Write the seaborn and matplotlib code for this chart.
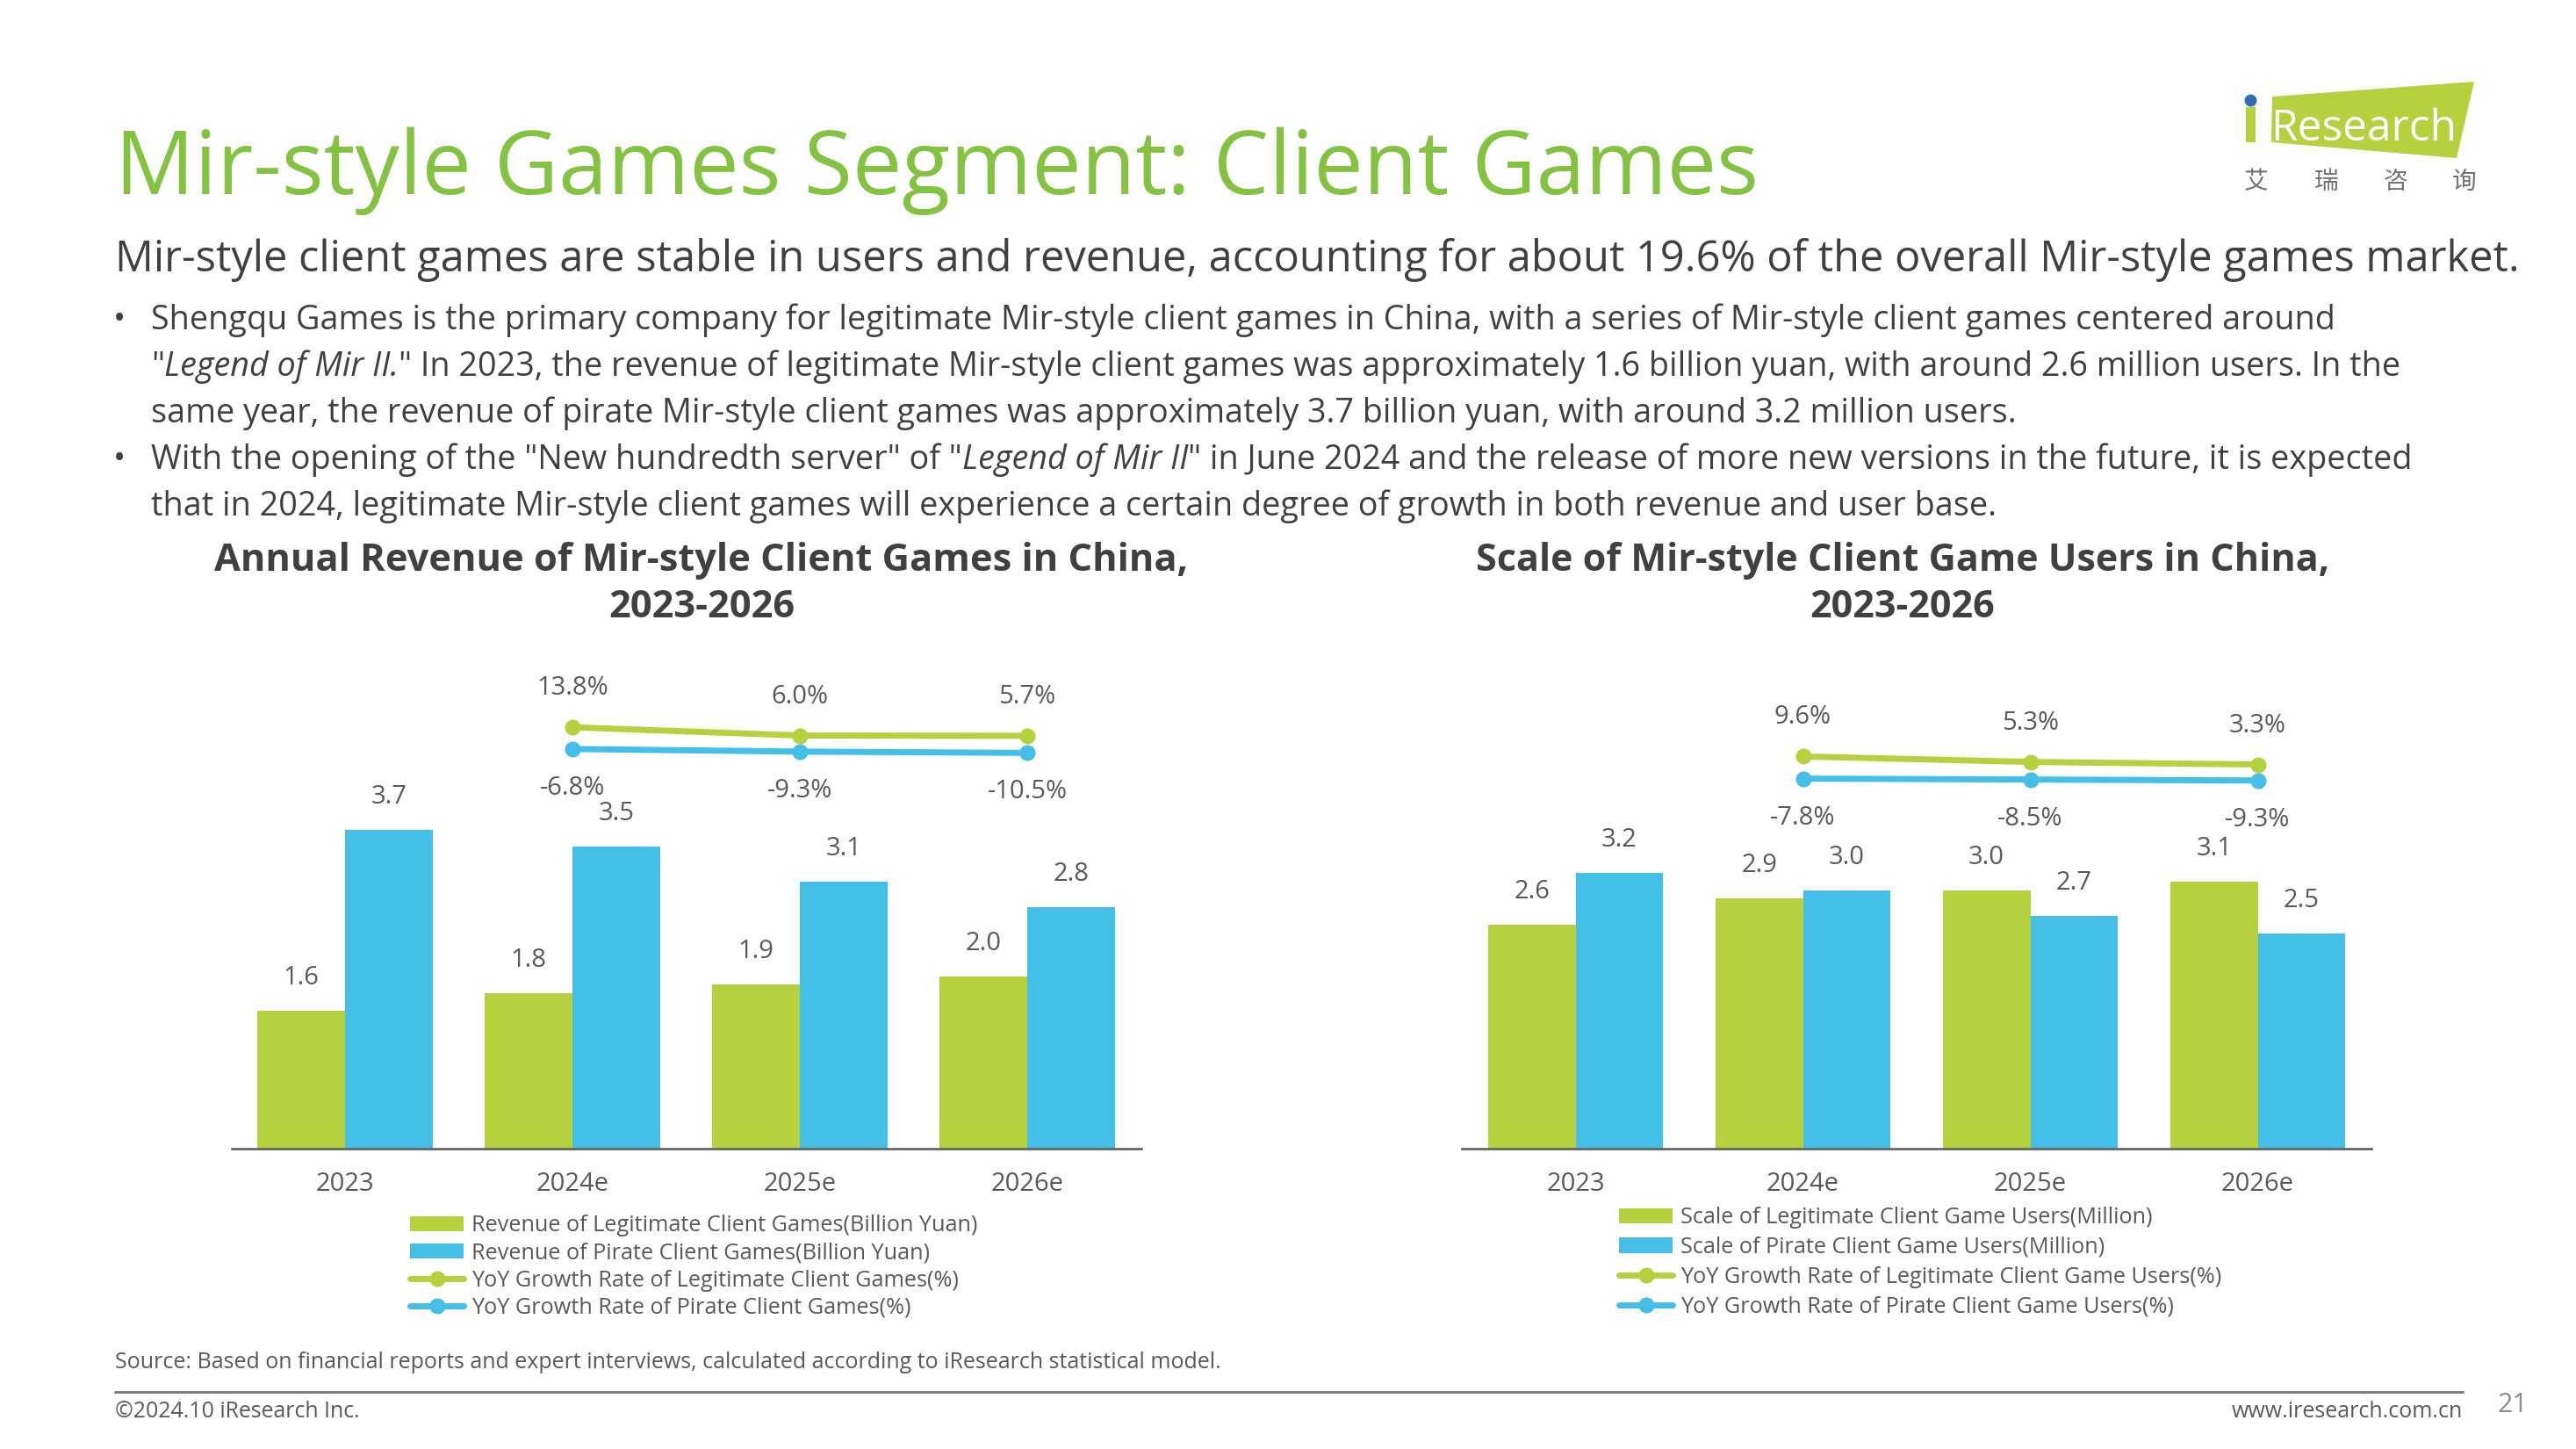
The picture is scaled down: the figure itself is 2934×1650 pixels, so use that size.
import matplotlib
matplotlib.use('Agg')
import matplotlib.pyplot as plt
import seaborn as sns
import pandas as pd
from matplotlib.patches import Patch, Polygon, Rectangle
from matplotlib.lines import Line2D

# data
years = ['2023', '2024e', '2025e', '2026e']
yoy_years = ['2024e', '2025e', '2026e']

legit_revenue = [1.6, 1.8, 1.9, 2.0]
pirate_revenue = [3.7, 3.5, 3.1, 2.8]
legit_revenue_yoy = [13.8, 6.0, 5.7]
pirate_revenue_yoy = [-6.8, -9.3, -10.5]

legit_users = [2.6, 2.9, 3.0, 3.1]
pirate_users = [3.2, 3.0, 2.7, 2.5]
legit_users_yoy = [9.6, 5.3, 3.3]
pirate_users_yoy = [-7.8, -8.5, -9.3]

revenue_names = ['Revenue of Legitimate Client Games(Billion Yuan)',
                 'Revenue of Pirate Client Games(Billion Yuan)',
                 'YoY Growth Rate of Legitimate Client Games(%)',
                 'YoY Growth Rate of Pirate Client Games(%)']
user_names = ['Scale of Legitimate Client Game Users(Million)',
              'Scale of Pirate Client Game Users(Million)',
              'YoY Growth Rate of Legitimate Client Game Users(%)',
              'YoY Growth Rate of Pirate Client Game Users(%)']

GREEN = '#B5D13E'
BLUE = '#44BFE7'
TITLE_GREEN = '#84C241'
DARK = '#404040'
GREY = '#595959'

sns.set_theme(style='white')
plt.rcParams['font.family'] = ['Open Sans', 'DejaVu Sans']

W, H = 2934, 1650
fig = plt.figure(figsize=(W / 100, H / 100), dpi=100)
renderer = fig.canvas.get_renderer()


def fx(x):
    return x / W


def fy(y):
    return 1 - y / H


def put(x, y, s, size, width=None, **kw):
    # place text in pixel coords, optionally scale font so it spans `width` px
    t = fig.text(fx(x), fy(y), s, fontsize=size, **kw)
    if width:
        w = t.get_window_extent(renderer).width
        t.set_fontsize(size * width / w)
    return t


def fit_size(s, size, width, **kw):
    t = fig.text(0, 0, s, fontsize=size, **kw)
    w = t.get_window_extent(renderer).width
    t.remove()
    return size * width / w


# header
put(131, 221, 'Mir-style Games Segment: Client Games', 60, width=1871,
    color=TITLE_GREEN, va='baseline')
put(131, 309, 'Mir-style client games are stable in users and revenue, accounting for about '
    '19.6% of the overall Mir-style games market.', 30, width=2737, color=DARK, va='baseline')

bullet_lines = [
    [('Shengqu Games is the primary company for legitimate Mir-style client games in China, '
      'with a series of Mir-style client games centered around', 'normal')],
    [('"', 'normal'), ('Legend of Mir II.', 'italic'),
     ('" In 2023, the revenue of legitimate Mir-style client games was approximately 1.6 billion '
      'yuan, with around 2.6 million users. In the', 'normal')],
    [('same year, the revenue of pirate Mir-style client games was approximately 3.7 billion yuan, '
      'with around 3.2 million users.', 'normal')],
    [('With the opening of the "New hundredth server" of "', 'normal'), ('Legend of Mir II', 'italic'),
     ('" in June 2024 and the release of more new versions in the future, it is expected', 'normal')],
    [('that in 2024, legitimate Mir-style client games will experience a certain degree of growth '
      'in both revenue and user base.', 'normal')],
]
bullet_fs = fit_size(bullet_lines[0][0][0], 24, 2491)
for i, runs in enumerate(bullet_lines):
    y = 375 + 53 * i
    if i in (0, 3):
        put(136, y, '•', bullet_fs, color=DARK, va='baseline', ha='center')
    x = 172
    for s, style in runs:
        t = put(x, y, s, bullet_fs, color=DARK, va='baseline', style=style)
        x += t.get_window_extent(renderer).width

# logo
fig.add_artist(Polygon([(fx(2588), fy(110)), (fx(2818), fy(93)), (fx(2798), fy(180)),
                        (fx(2587), fy(162))], closed=True, facecolor=GREEN, edgecolor='none',
                       transform=fig.transFigure))
fig.add_artist(Rectangle((fx(2558), fy(162)), 11 / W, 40 / H, facecolor=GREEN,
                         edgecolor='none', transform=fig.transFigure))
fig.add_artist(Line2D([fx(2563)], [fy(114)], marker='o', markersize=10, color='#2E6DB4',
                      markeredgewidth=0, transform=fig.transFigure))
put(2586, 160, 'Research', 34, width=212, color='white', va='baseline')
for cx, ch in zip([2570, 2650, 2728, 2807], '艾瑞咨询'):
    put(cx, 207, ch, 20, color='#707070', ha='center', va='center',
        family=['Noto Sans CJK SC', 'DejaVu Sans'])

# chart titles
for cx, lines in [(799, ['Annual Revenue of Mir-style Client Games in China,', '2023-2026']),
                  (2167, ['Scale of Mir-style Client Game Users in China,', '2023-2026'])]:
    t = put(cx, 650, lines[0], 27, width=1107 if cx < 1000 else 972, color=DARK,
            weight='bold', ha='center', va='baseline')
    put(cx, 703, lines[1], t.get_fontsize(), color=DARK, weight='bold', ha='center', va='baseline')

BASE = 1308
AX_H = 589
LABEL_FS = 21


def draw_panel(left, right, legit, pirate, legit_yoy, pirate_yoy, yoy_lim, names,
               leg_x, leg_top, leg_pitch, leg_width):
    ax = fig.add_axes([fx(left), fy(BASE), (right - left) / W, AX_H / H])
    df = pd.DataFrame({'year': years * 2,
                       'value': legit + pirate,
                       'series': [names[0]] * len(years) + [names[1]] * len(years)})
    sns.barplot(data=df, x='year', y='value', hue='series', palette=[GREEN, BLUE],
                width=0.77, saturation=1, errorbar=None, legend=False, linewidth=0, ax=ax)
    ax.set_ylim(0, 6)
    ax.set_xlim(-0.5, len(years) - 0.5)
    for cont in ax.containers:
        for bar in cont:
            ax.annotate(f'{bar.get_height():.1f}',
                        (bar.get_x() + bar.get_width() / 2, bar.get_height()),
                        xytext=(0, 27), textcoords='offset points', ha='center', va='center',
                        fontsize=LABEL_FS, color=GREY)
    sns.despine(ax=ax, left=True)
    ax.spines['bottom'].set_color(GREY)
    ax.spines['bottom'].set_linewidth(1.8)
    ax.set_yticks([])
    ax.set_xlabel('')
    ax.set_ylabel('')
    ax.tick_params(axis='x', length=0, pad=19, labelsize=LABEL_FS, labelcolor=GREY)

    ax2 = ax.twinx()
    xs = [years.index(y) for y in yoy_years]
    for vals, color, off in [(legit_yoy, GREEN, 32), (pirate_yoy, BLUE, -32)]:
        sns.lineplot(x=xs, y=vals, ax=ax2, color=color, linewidth=5, marker='o',
                     markersize=13, markeredgewidth=0)
        for xv, v in zip(xs, vals):
            ax2.annotate(f'{v:.1f}%', (xv, v), xytext=(0, off), textcoords='offset points',
                         ha='center', va='center', fontsize=LABEL_FS, color=GREY)
    ax2.set_ylim(*yoy_lim)
    ax2.set_xlim(-0.5, len(years) - 0.5)
    ax2.set_axis_off()

    fs = fit_size(names[0], 16, leg_width)
    fs_px = fs * 100 / 72
    handles = [Patch(facecolor=GREEN, edgecolor='none'),
               Patch(facecolor=BLUE, edgecolor='none'),
               Line2D([], [], color=GREEN, lw=5, marker='o', markersize=13, markeredgewidth=0),
               Line2D([], [], color=BLUE, lw=5, marker='o', markersize=13, markeredgewidth=0)]
    fig.legend(handles, names, loc='upper left',
               bbox_to_anchor=(fx(leg_x), fy(leg_top)), bbox_transform=fig.transFigure,
               frameon=False, fontsize=fs, labelcolor=GREY, borderpad=0, borderaxespad=0,
               handlelength=61 / fs_px, handleheight=17 / fs_px, handletextpad=9 / fs_px,
               labelspacing=(leg_pitch - fs_px) / fs_px)


draw_panel(263.5, 1299.5, legit_revenue, pirate_revenue, legit_revenue_yoy, pirate_revenue_yoy,
           (-386.2, 104.8), revenue_names, 467, 1383, 31.5, 577)
draw_panel(1665, 2701, legit_users, pirate_users, legit_users_yoy, pirate_users_yoy,
           (-298.4, 107.8), user_names, 1844, 1374, 34, 538)

# footer
put(131, 1552, 'Source: Based on financial reports and expert interviews, calculated according '
    'to iResearch statistical model.', 14, width=1266, color=GREY, va='center')
fig.add_artist(Line2D([fx(131), fx(2805)], [fy(1585), fy(1585)], color='#808080', lw=2.2,
                      transform=fig.transFigure))
put(131, 1608, '©2024.10 iResearch Inc.', 14, width=280, color=GREY, va='center')
put(2805, 1608, 'www.iresearch.com.cn', 14, width=264, color=GREY, va='center', ha='right')
put(2845, 1600, '21', 22, color='#8c8c8c', va='center')

fig.savefig('out.png', dpi=100)
